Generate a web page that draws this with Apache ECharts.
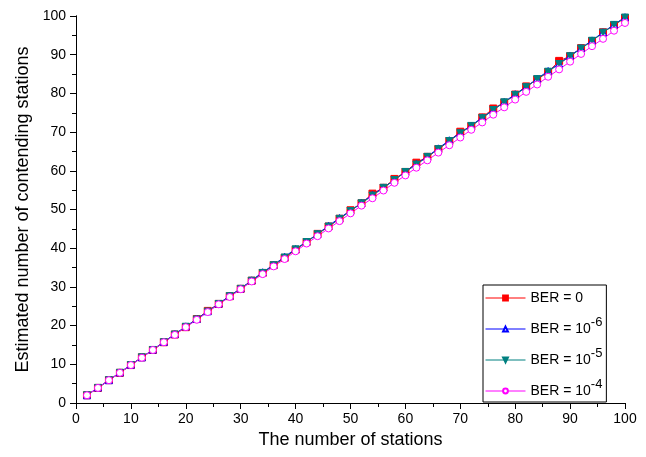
<!DOCTYPE html>
<html>
<head>
<meta charset="utf-8">
<script src="https://cdn.jsdelivr.net/npm/echarts@6/dist/echarts.min.js"></script>
<style>
  html, body { margin: 0; padding: 0; background: #fff; }
  #main { width: 646px; height: 457px; }
</style>
</head>
<body>
<div id="main"></div>
<script>
const stations = [2, 4, 6, 8, 10, 12, 14, 16, 18, 20, 22, 24, 26, 28, 30, 32, 34, 36, 38, 40,
  42, 44, 46, 48, 50, 52, 54, 56, 58, 60, 62, 64, 66, 68, 70, 72, 74, 76, 78, 80,
  82, 84, 86, 88, 90, 92, 94, 96, 98, 100];

const ber0 = [2.0, 3.9, 5.9, 7.8, 9.8, 11.8, 13.7, 15.7, 17.7, 19.6, 21.7, 23.8, 25.6, 27.6, 29.5, 31.6, 33.6, 35.6, 37.5, 39.6,
  41.6, 43.7, 45.6, 47.6, 49.8, 51.6, 54.1, 55.6, 57.9, 59.7, 62.1, 63.6, 65.6, 67.7, 70.1, 71.5, 73.8, 76.1, 77.6, 79.7,
  81.8, 83.6, 85.5, 88.4, 89.6, 91.7, 93.5, 95.8, 97.6, 99.5];

const ber6 = [2.0, 4.0, 5.9, 7.9, 9.9, 11.8, 13.8, 15.8, 17.8, 19.8, 21.7, 23.7, 25.7, 27.7, 29.6, 31.7, 33.8, 35.7, 37.8, 39.8,
  41.7, 43.7, 45.8, 47.8, 49.7, 51.7, 53.8, 55.7, 57.6, 59.8, 61.8, 63.7, 65.8, 67.9, 69.8, 71.7, 73.8, 75.7, 77.8, 79.8,
  81.7, 83.8, 85.8, 87.7, 89.8, 91.7, 93.7, 95.8, 97.8, 99.7];

const ber5 = [2.0, 3.9, 5.9, 7.8, 9.8, 11.8, 13.7, 15.7, 17.7, 19.7, 21.6, 23.6, 25.6, 27.6, 29.5, 31.6, 33.6, 35.6, 37.6, 39.7,
  41.6, 43.6, 45.6, 47.6, 49.6, 51.6, 53.6, 55.6, 57.6, 59.7, 61.6, 63.6, 65.6, 67.7, 69.7, 71.6, 73.6, 75.7, 77.7, 79.6,
  81.6, 83.7, 85.6, 87.6, 89.6, 91.6, 93.6, 95.7, 97.7, 99.6];

const ber4 = [2.0, 3.9, 5.9, 7.8, 9.8, 11.7, 13.7, 15.7, 17.6, 19.6, 21.5, 23.5, 25.5, 27.4, 29.4, 31.4, 33.3, 35.3, 37.2, 39.2,
  41.2, 43.1, 45.1, 47.0, 49.0, 51.0, 52.9, 54.9, 56.9, 58.8, 60.8, 62.7, 64.7, 66.6, 68.6, 70.6, 72.5, 74.5, 76.4, 78.4,
  80.4, 82.3, 84.3, 86.2, 88.2, 90.2, 92.2, 94.1, 96.2, 98.2];

const seriesNames = ['BER = 0', 'BER = 10-6', 'BER = 10-5', 'BER = 10-4'];
const legendText = {
  'BER = 0': '{b|BER = 0}',
  'BER = 10-6': '{b|BER = 10}{s|-6}',
  'BER = 10-5': '{b|BER = 10}{s|-5}',
  'BER = 10-4': '{b|BER = 10}{s|-4}'
};

const font = 'Liberation Sans, Arial, sans-serif';
const pair = (ys) => stations.map((x, i) => [x, ys[i]]);

const chart = echarts.init(document.getElementById('main'));

const axisBase = {
  type: 'value',
  min: 0,
  max: 100,
  interval: 10,
  axisLine: { show: true, lineStyle: { color: '#000', width: 1 } },
  splitLine: { show: false },
  minorTick: { show: true, splitNumber: 2, length: 4, lineStyle: { color: '#000' } },
  minorSplitLine: { show: false }
};

function mkSeries(name, data, color, symbol, filled, rotate) {
  return {
    name: name,
    type: 'line',
    data: pair(data),
    symbol: symbol,
    symbolSize: 7,
    symbolRotate: rotate || 0,
    showAllSymbol: true,
    lineStyle: { color: color, width: 1 },
    itemStyle: { color: filled ? color : '#fff', borderColor: color, borderWidth: 1 },
    animation: false
  };
}

chart.setOption({
  animation: false,
  grid: { left: 76, right: 21, top: 16, bottom: 54 },
  xAxis: [
    Object.assign({}, axisBase, {
      position: 'bottom',
      name: 'The number of stations',
      nameLocation: 'middle',
      nameGap: 28,
      nameTextStyle: { fontFamily: font, fontSize: 18, color: '#000' },
      axisTick: { show: true, inside: false, length: 6, lineStyle: { color: '#000' } },
      axisLabel: { fontFamily: font, fontSize: 14, color: '#000', margin: 9 }
    }),
    Object.assign({}, axisBase, {
      position: 'top',
      axisTick: { show: true, inside: true, length: 6, lineStyle: { color: '#000' } },
      axisLabel: { show: false }
    })
  ],
  yAxis: [
    Object.assign({}, axisBase, {
      position: 'left',
      name: 'Estimated number of contending stations',
      nameLocation: 'middle',
      nameGap: 41,
      nameTextStyle: { fontFamily: font, fontSize: 18, color: '#000' },
      axisTick: { show: true, inside: false, length: 6, lineStyle: { color: '#000' } },
      axisLabel: { fontFamily: font, fontSize: 14, color: '#000', margin: 10 }
    }),
    Object.assign({}, axisBase, {
      position: 'right',
      axisTick: { show: true, inside: true, length: 6, lineStyle: { color: '#000' } },
      axisLabel: { show: false }
    })
  ],
  legend: {
    data: seriesNames,
    orient: 'vertical',
    left: 483,
    top: 285,
    width: 123,
    padding: [6, 4, 4, 2],
    itemGap: 11,
    itemWidth: 40,
    itemHeight: 6,
    borderColor: '#000',
    borderWidth: 1,
    borderRadius: 0,
    backgroundColor: '#fff',
    lineStyle: { width: 1 },
    formatter: (name) => legendText[name],
    textStyle: {
      fontFamily: font,
      fontSize: 14,
      color: '#000',
      rich: {
        b: { fontFamily: font, fontSize: 14, color: '#000' },
        s: { fontFamily: font, fontSize: 13, color: '#000', padding: [0, 0, 13, 0] }
      }
    }
  },
  series: [
    mkSeries(seriesNames[0], ber0, '#ff0000', 'rect', true),
    mkSeries(seriesNames[1], ber6, '#0000ff', 'triangle', false),
    mkSeries(seriesNames[2], ber5, '#008080', 'triangle', true, 180),
    mkSeries(seriesNames[3], ber4, '#ff00ff', 'circle', false)
  ]
});
</script>
</body>
</html>
